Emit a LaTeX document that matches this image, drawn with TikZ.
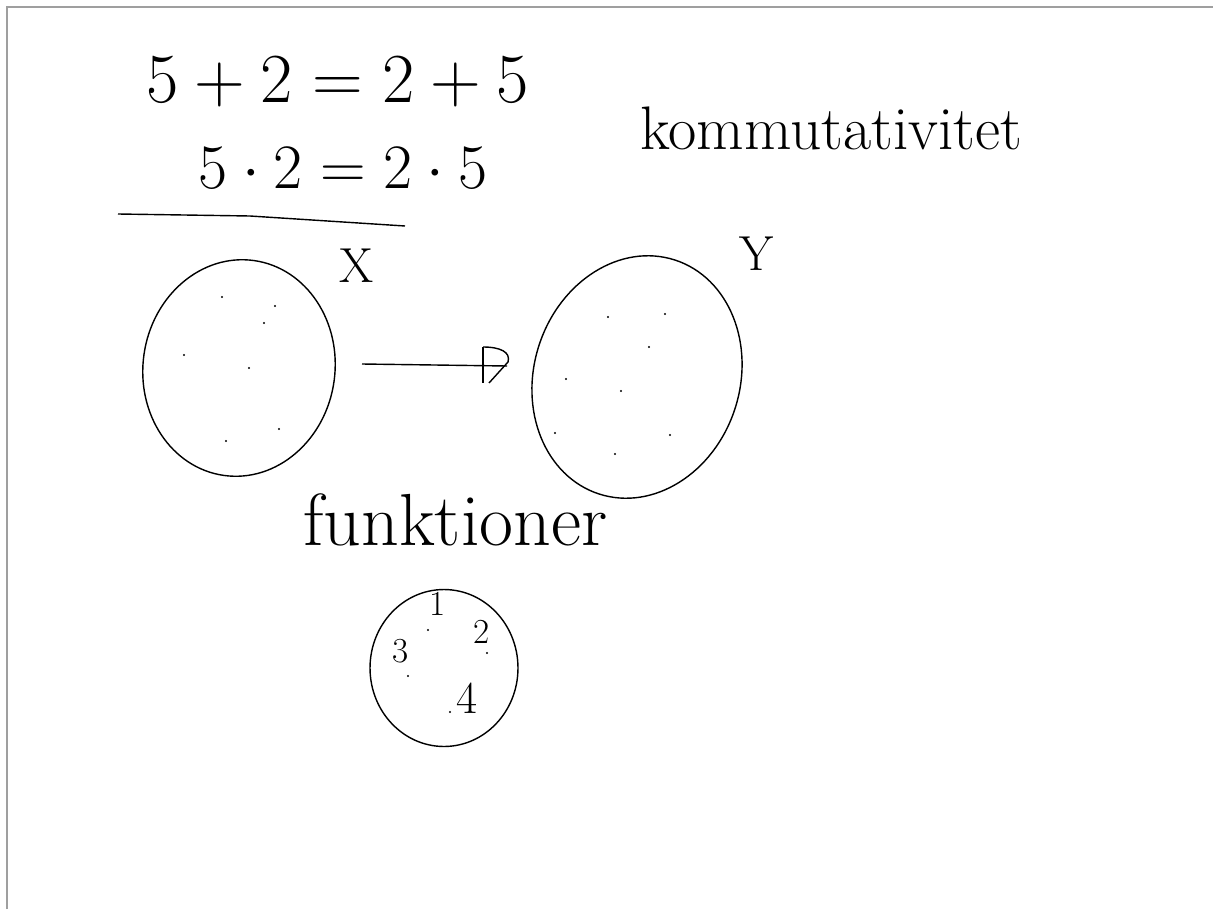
\RequirePackage{fix-cm}
\documentclass[tikz,border=0pt]{standalone}
\usepackage{amsmath}
\usetikzlibrary{shapes.geometric}

\begin{document}
\begin{tikzpicture}[
    x=0.02cm, y=-0.02cm,
    ink/.style={line width=0.8pt, black},
    blob/.style={draw, ellipse, line width=0.8pt, inner sep=0pt},
    big/.style={font=\fontsize{40}{44}\selectfont, inner sep=0pt},
    word/.style={font=\fontsize{35}{40}\selectfont, inner sep=0pt},
    lbl/.style={font=\fontsize{28}{32}\selectfont, inner sep=0pt},
    num/.style={font=\fontsize{20}{24}\selectfont, inner sep=0pt}
  ]
  \useasboundingbox (0,0) rectangle (1213,909);
  \draw[gray!75, line width=1.2pt] (7,909) -- (7,7) -- (1213,7);

  % equations
  \node[big, anchor=base] (eqsum) at (338,103) {$5+2 = 2+5$};
  \node[big, font=\fontsize{36}{40}\selectfont, anchor=base] (eqprod) at (343,188) {$5\cdot 2 = 2\cdot 5$};
  \node[word, anchor=base west] (komm) at (640,150) {kommutativitet};
  \draw[ink] (118,214) -- (250,216) -- (405,226);

  % sets and map
  \node[blob, minimum width=3.84cm, minimum height=4.34cm, rotate=-8] (setX) at (239,368) {};
  \node[blob, minimum width=4.12cm, minimum height=4.92cm, rotate=-18] (setY) at (637,377) {};
  \node[lbl, anchor=base] (labX) at (357,282) {X};
  \node[lbl, anchor=base] (labY) at (757,270) {Y};
  \foreach \p in {(222,297),(275,306),(264,323),(184,355),(249,368),(279,429),(226,441)}
    \fill \p circle (1.2);
  \foreach \p in {(608,317),(665,314),(649,347),(566,379),(621,391),(555,433),(670,435),(615,454)}
    \fill \p circle (1.2);

  \coordinate (mapstart) at (362,364);
  \coordinate (mapend) at (507,366);
  \draw[ink] (mapstart) -- (mapend);
  \draw[ink] (483,347) -- (483,383);
  \draw[ink] (483,347) .. controls (500,347) and (511,352) .. (508,362) -- (489,383);

  % functions
  \node[word, font=\fontsize{42}{46}\selectfont, anchor=base west] (funk) at (303,545) {funktioner};
  \node[blob, minimum width=2.96cm, minimum height=3.14cm] (setS) at (444,668) {};
  \node[num, anchor=base] (n1) at (438,615) {1};
  \node[num, anchor=base] (n2) at (482,643) {2};
  \node[num, anchor=base] (n3) at (401,662) {3};
  \node[num, font=\fontsize{26}{30}\selectfont, anchor=base] (n4) at (467,713) {4};
  \foreach \p in {(428,630),(487,653),(408,676),(450,712)}
    \fill \p circle (1.2);
\end{tikzpicture}
\end{document}
